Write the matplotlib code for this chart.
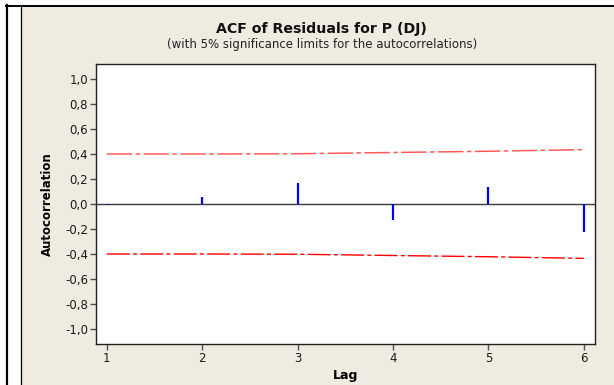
import matplotlib
matplotlib.use("Agg")
import matplotlib.pyplot as plt
from matplotlib.patches import Rectangle
from matplotlib.lines import Line2D
from matplotlib.ticker import FuncFormatter

lags = [1, 2, 3, 4, 5, 6]
acf_values = [-0.01, 0.054, 0.17, -0.128, 0.136, -0.22]
sig_limits = [0.400, 0.400, 0.402, 0.412, 0.422, 0.435]
y_ticks = [-1.0, -0.8, -0.6, -0.4, -0.2, 0.0, 0.2, 0.4, 0.6, 0.8, 1.0]

title = "ACF of Residuals for P (DJ)"
subtitle = "(with 5% significance limits for the autocorrelations)"

W, H = 614, 385
fig = plt.figure(figsize=(W / 100, H / 100), dpi=100)
fig.patch.set_facecolor("white")

beige = "#EFEBE1"
fig.patches.append(Rectangle((22 / W, 0), 1 - 22 / W, 1 - 6 / H,
                             transform=fig.transFigure, facecolor=beige,
                             edgecolor="none", zorder=-10))
fig.lines.append(Line2D([6.5 / W, 6.5 / W], [0, 1 - 5 / H], transform=fig.transFigure,
                        color="black", lw=1.6, zorder=-5))
fig.lines.append(Line2D([6 / W, 1], [1 - 5.8 / H, 1 - 5.8 / H], transform=fig.transFigure,
                        color="black", lw=1.4, zorder=-5))
fig.lines.append(Line2D([21 / W, 21 / W], [0, 1 - 6 / H], transform=fig.transFigure,
                        color="black", lw=0.9, zorder=-5))

ax = fig.add_axes([95.7 / W, 1 - 344 / H, (595 - 95.7) / W, (344 - 64) / H])
ax.set_zorder(5)
ax.set_facecolor("white")
ax.set_xlim(0.884, 6.117)
ax.set_ylim(-1.12, 1.12)

ax.axhline(0, color="#3a3a3a", lw=1.0, zorder=2)
ax.vlines(lags, 0, acf_values, color="#0000FF", lw=1.6, zorder=3)
dash = (16.6, 2.3, 2.9, 2.3)
ax.plot(lags, sig_limits, color="#FF5A5A", lw=1.1, dashes=dash, zorder=2)
ax.plot(lags, [-v for v in sig_limits], color="#FF0000", lw=1.0, dashes=dash, zorder=2)

ax.set_xticks(lags)
ax.set_xticklabels([str(l) for l in lags])
ax.set_yticks(y_ticks)
ax.yaxis.set_major_formatter(FuncFormatter(lambda v, p: f"{v:.1f}".replace(".", ",").replace("-0,0", "0,0")))

for s in ax.spines.values():
    s.set_color("#202020")
    s.set_linewidth(1.0)
ax.tick_params(direction="out", length=4, width=1, color="#505050",
               labelsize=8.5, labelcolor="#1a1a1a", pad=1.5)

ax.set_xlabel("Lag", fontsize=9, fontweight="bold", labelpad=3.5)
ax.set_ylabel("Autocorrelation", fontsize=8.5, fontweight="bold", labelpad=8)

fig.text(321.7 / W, 1 - 33.3 / H, title, ha="center", va="baseline",
         fontsize=10.2, fontweight="bold", color="#111111")
fig.text(321.7 / W, 1 - 48 / H, subtitle, ha="center", va="baseline",
         fontsize=8.5, color="#222222")

fig.savefig("out.png", dpi=100, facecolor=fig.get_facecolor())
